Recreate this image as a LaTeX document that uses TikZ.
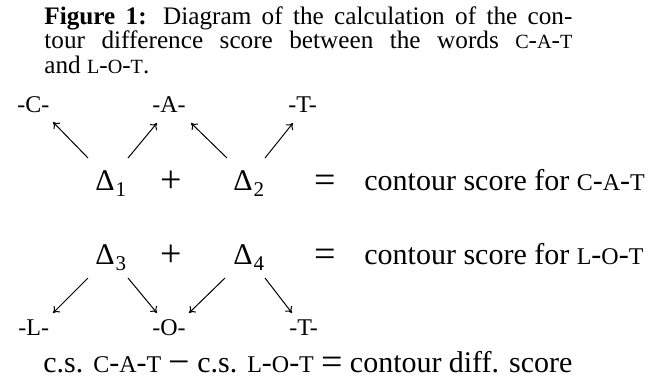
\documentclass[tikz,border=0pt]{standalone}
\usepackage{fontspec}
\setmainfont{Liberation Serif}
\usetikzlibrary{arrows.meta}
\newcommand\scp[1]{\scalebox{0.8}{#1}}
\newcommand\dl[1]{Δ\kern0.03em\raisebox{-0.2em}{\fontsize{10.5}{10.5}\selectfont #1}}
\newcommand\bsym[1]{\raisebox{-1pt}{\fontsize{19}{19}\selectfont #1}}
\begin{document}
\begin{tikzpicture}[x=0.5pt,y=-0.5pt,
  captext/.style={anchor=base west,inner sep=0,font=\fontsize{12.6}{12.6}\selectfont},
  lab/.style={anchor=base west,inner sep=0,font=\fontsize{12}{12}\selectfont},
  eqtext/.style={anchor=base west,inner sep=0,font=\fontsize{15}{15}\selectfont},
  eqsym/.style={anchor=base,inner sep=0,font=\fontsize{15}{15}\selectfont},
  arr/.style={line width=0.5pt,-{To[length=3pt,width=4.5pt]}}]
\useasboundingbox (0,0) rectangle (658,381);
% caption
\node[captext] (cap1) at (44,24) {\makebox[264pt][s]{\textbf{Figure 1:} Diagram of the calculation of the con-}};
\node[captext] (cap2) at (44,48.5) {\makebox[264pt][s]{tour difference score between the words \scp{C}-\scp{A}-\scp{T}}};
\node[captext] (cap3) at (44,73) {and \scp{L}-\scp{O}-\scp{T}.};
% top labels
\node[lab] (C) at (17,112) {-C-};
\node[lab] (A) at (152,112) {-A-};
\node[lab] (T1) at (288,112) {-T-};
% first equation
\node[eqtext] (d1) at (95,190) {\dl{1}};
\node[eqsym] (p1) at (171,190) {\bsym{+}};
\node[eqtext] (d2) at (233,190) {\dl{2}};
\node[eqsym] (e1) at (325,190) {\bsym{=}};
\node[eqtext] (s1) at (364,190) {contour score for \scp{C}-\scp{A}-\scp{T}};
% second equation
\node[eqtext] (d3) at (95,264) {\dl{3}};
\node[eqsym] (p2) at (171,264) {\bsym{+}};
\node[eqtext] (d4) at (233,264) {\dl{4}};
\node[eqsym] (e2) at (325,264) {\bsym{=}};
\node[eqtext] (s2) at (364,264) {contour score for \scp{L}-\scp{O}-\scp{T}};
% bottom labels
\node[lab] (L) at (18,335) {-L-};
\node[lab] (O) at (152,335) {-O-};
\node[lab] (T2) at (289,335) {-T-};
% final line
\node[eqtext] (fin) at (43,372) {\makebox[264.5pt][s]{c.s. \scp{C}-\scp{A}-\scp{T} \bsym{−} c.s. \scp{L}-\scp{O}-\scp{T} \bsym{=} contour diff. score}};
% arrow ends
\coordinate (u1s) at (88,158);  \coordinate (u1e) at (53,122);
\coordinate (u2s) at (128,158); \coordinate (u2e) at (157,123);
\coordinate (u3s) at (227,158); \coordinate (u3e) at (191,123);
\coordinate (u4s) at (265,158); \coordinate (u4e) at (293,123);
\coordinate (l1s) at (88,278);  \coordinate (l1e) at (53,313);
\coordinate (l2s) at (128,278); \coordinate (l2e) at (157,313);
\coordinate (l3s) at (225,278); \coordinate (l3e) at (189,313);
\coordinate (l4s) at (265,278); \coordinate (l4e) at (292,313);
\draw[arr] (u1s) -- (u1e);
\draw[arr] (u2s) -- (u2e);
\draw[arr] (u3s) -- (u3e);
\draw[arr] (u4s) -- (u4e);
\draw[arr] (l1s) -- (l1e);
\draw[arr] (l2s) -- (l2e);
\draw[arr] (l3s) -- (l3e);
\draw[arr] (l4s) -- (l4e);
\end{tikzpicture}
\end{document}
